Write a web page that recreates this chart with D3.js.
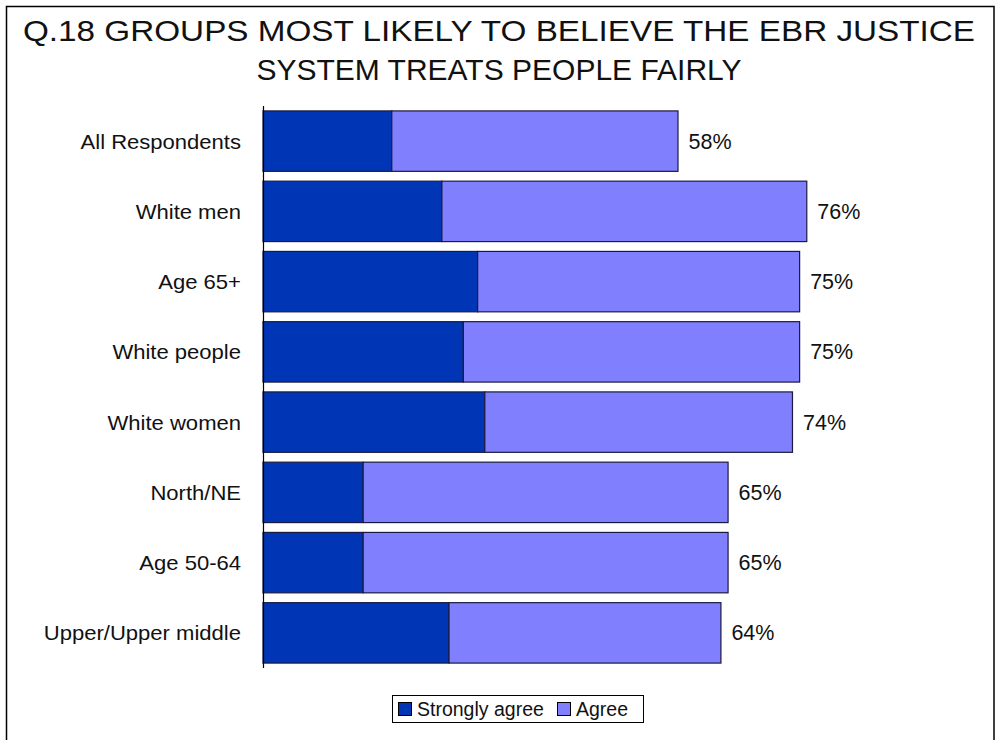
<!DOCTYPE html>
<html>
<head>
<meta charset="utf-8">
<script src="https://cdn.jsdelivr.net/npm/d3@7"></script>
<style>
  html, body { margin: 0; padding: 0; background: #fff; }
  svg { display: block; font-family: Arial, "Liberation Sans", sans-serif; }
</style>
</head>
<body>
<svg id="chart" width="996" height="740"></svg>
<script>
// Survey groups, top to bottom
const categories = ["All Respondents", "White men", "Age 65+", "White people",
                    "White women", "North/NE", "Age 50-64", "Upper/Upper middle"];
// Percent answering "Strongly agree" and "Agree"
const stronglyAgree = [18, 25, 30, 28, 31, 14, 14, 26];
const agree         = [40, 51, 45, 47, 43, 51, 51, 38];
const seriesNames = ["Strongly agree", "Agree"];
const titleLines = ["Q.18 GROUPS MOST LIKELY TO BELIEVE THE EBR JUSTICE",
                    "SYSTEM TREATS PEOPLE FAIRLY"];

const colors = ["#0036B5", "#8080FF"];

const svg = d3.select("#chart");

// outer frame
svg.append("rect")
  .attr("x", 6.5).attr("y", 6.5)
  .attr("width", 987.5).attr("height", 760)
  .attr("fill", "none").attr("stroke", "#000").attr("stroke-width", 1.5);

// title (first line spans the frame width)
svg.append("g").selectAll("text")
  .data(titleLines)
  .join("text")
  .attr("x", 499)
  .attr("y", (d, i) => 41 + i * 39)
  .attr("text-anchor", "middle")
  .attr("font-size", 30)
  .attr("fill", "#111")
  .each(function(d, i) {
    if (i === 0) d3.select(this).attr("textLength", 952).attr("lengthAdjust", "spacingAndGlyphs");
  })
  .text(d => d);

const rows = categories.map((c, i) => ({
  cat: c, strong: stronglyAgree[i], agree: agree[i]
}));

const x = d3.scaleLinear().domain([0, 100]).range([263, 978.5]);
const y = d3.scaleBand().domain(categories).range([106, 668])
  .paddingInner(0.14).paddingOuter(0.07);

const stack = d3.stack().keys(["strong", "agree"]);
const layers = stack(rows);

const barG = svg.append("g");
barG.selectAll("g")
  .data(layers)
  .join("g")
  .attr("fill", (d, i) => colors[i])
  .selectAll("rect")
  .data(d => d)
  .join("rect")
  .attr("x", d => x(d[0]))
  .attr("y", d => y(d.data.cat))
  .attr("width", d => x(d[1]) - x(d[0]))
  .attr("height", y.bandwidth())
  .attr("stroke", "#1a1a40")
  .attr("stroke-width", 1.2);

// vertical category axis line
svg.append("line")
  .attr("x1", 263.5).attr("x2", 263.5)
  .attr("y1", 106).attr("y2", 668)
  .attr("stroke", "#000").attr("stroke-width", 1.2);

// category labels
svg.append("g").selectAll("text")
  .data(categories)
  .join("text")
  .attr("transform", d => `translate(241,${y(d) + y.bandwidth() / 2 + 7.5}) scale(1.05,1)`)
  .attr("text-anchor", "end")
  .attr("font-size", 21)
  .attr("fill", "#111")
  .text(d => d);

// total labels
svg.append("g").selectAll("text")
  .data(rows)
  .join("text")
  .attr("x", d => x(d.strong + d.agree) + 10.5)
  .attr("y", d => y(d.cat) + y.bandwidth() / 2 + 7.5)
  .attr("font-size", 21.5)
  .attr("fill", "#111")
  .text(d => (d.strong + d.agree) + "%");

// legend
const legend = svg.append("g");
legend.append("rect")
  .attr("x", 392.5).attr("y", 695.5).attr("width", 251).attr("height", 27)
  .attr("fill", "#fff").attr("stroke", "#000").attr("stroke-width", 1);
const legendX = [398, 557];
const items = legend.selectAll("g.item")
  .data(seriesNames)
  .join("g")
  .attr("class", "item")
  .attr("transform", (d, i) => `translate(${legendX[i]},702)`);
items.append("rect")
  .attr("x", 0.5).attr("y", 0.5).attr("width", 13).attr("height", 13)
  .attr("fill", (d, i) => colors[i]).attr("stroke", "#000").attr("stroke-width", 1);
items.append("text")
  .attr("x", 19).attr("y", 14)
  .attr("font-size", 19.5)
  .attr("fill", "#111")
  .text(d => d);
</script>
</body>
</html>
